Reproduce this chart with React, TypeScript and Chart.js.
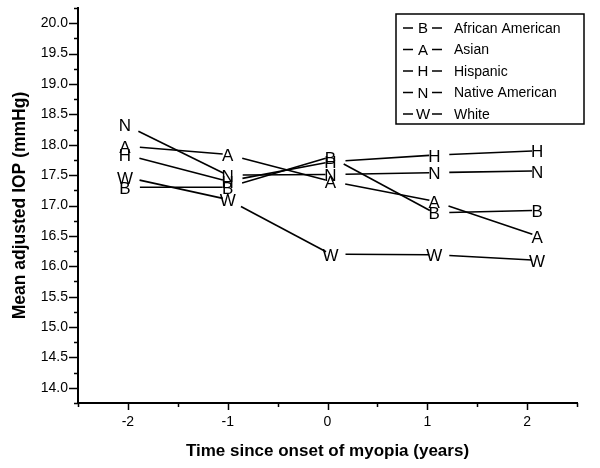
import React, { useEffect, useRef } from "react";
import { Chart, registerables } from "chart.js";

Chart.register(...registerables);

// ---- data ----
const TIMES = [-2.03, -1.0, 0.03, 1.07, 2.1];
const GROUPS = ["African American", "Asian", "Hispanic", "Native American", "White"];
const SYMBOLS = ["B", "A", "H", "N", "W"];
const AFRICAN_AMERICAN = [17.3, 17.3, 17.8, 16.88, 16.92];
const ASIAN = [17.98, 17.84, 17.4, 17.07, 16.5];
const HISPANIC = [17.84, 17.4, 17.72, 17.83, 17.9];
const NATIVE_AMERICAN = [18.33, 17.5, 17.51, 17.54, 17.57];
const WHITE = [17.47, 17.1, 16.2, 16.19, 16.1];
const SERIES = [AFRICAN_AMERICAN, ASIAN, HISPANIC, NATIVE_AMERICAN, WHITE];
const Y_TICKS = [14.0, 14.5, 15.0, 15.5, 16.0, 16.5, 17.0, 17.5, 18.0, 18.5, 19.0, 19.5, 20.0];
const Y_MINOR = [13.75, 14.25, 14.75, 15.25, 15.75, 16.25, 16.75, 17.25, 17.75, 18.25, 18.75, 19.25, 19.75, 20.25];
const X_TICKS = [-2, -1, 0, 1, 2];
const X_MINOR = [-2.5, -1.5, -0.5, 0.5, 1.5, 2.5];
const X_TITLE = "Time since onset of myopia (years)";
const Y_TITLE = "Mean adjusted IOP (mmHg)";

const FONT = '"Liberation Sans", Arial, Helvetica, sans-serif';

const axisTickPlugin = {
  id: "axisTicks",
  afterDraw(chart: any) {
    const ctx = chart.ctx;
    const xs = chart.scales.x;
    const ys = chart.scales.y;
    const area = chart.chartArea;
    ctx.save();
    ctx.strokeStyle = "#000";
    ctx.lineWidth = 1.5;
    ctx.beginPath();
    Y_TICKS.forEach((v) => {
      const y = Math.round(ys.getPixelForValue(v)) + 0.5;
      ctx.moveTo(area.left - 9, y);
      ctx.lineTo(area.left, y);
    });
    Y_MINOR.forEach((v) => {
      const y = Math.round(ys.getPixelForValue(v)) + 0.5;
      ctx.moveTo(area.left - 4, y);
      ctx.lineTo(area.left, y);
    });
    X_TICKS.forEach((v) => {
      const x = Math.round(xs.getPixelForValue(v)) + 0.5;
      ctx.moveTo(x, area.bottom);
      ctx.lineTo(x, area.bottom + 7);
    });
    X_MINOR.forEach((v) => {
      const x = Math.round(xs.getPixelForValue(v)) + 0.5;
      ctx.moveTo(x, area.bottom);
      ctx.lineTo(x, area.bottom + 4);
    });
    ctx.stroke();
    ctx.restore();
  },
};

const GAP_START = 15;
const GAP_END = 5;

const markerPlugin = {
  id: "letterMarkers",
  afterDatasetsDraw(chart: any) {
    const ctx = chart.ctx;
    ctx.save();
    chart.data.datasets.forEach((ds: any, i: number) => {
      const pts = chart.getDatasetMeta(i).data;
      ctx.strokeStyle = "#000";
      ctx.lineWidth = 1.6;
      for (let k = 0; k < pts.length - 1; k++) {
        const p = pts[k];
        const q = pts[k + 1];
        const dx = q.x - p.x;
        const dy = q.y - p.y;
        const len = Math.hypot(dx, dy);
        const ux = dx / len;
        const uy = dy / len;
        ctx.beginPath();
        ctx.moveTo(p.x + ux * GAP_START, p.y + uy * GAP_START);
        ctx.lineTo(q.x - ux * GAP_END, q.y - uy * GAP_END);
        ctx.stroke();
      }
      ctx.font = `17px ${FONT}`;
      ctx.fillStyle = "#000";
      ctx.textAlign = "center";
      ctx.textBaseline = "middle";
      pts.forEach((p: any) => ctx.fillText(SYMBOLS[i], p.x, p.y + 2));
    });
    ctx.restore();
  },
};

const legendPlugin = {
  id: "letterLegend",
  afterDraw(chart: any) {
    const ctx = chart.ctx;
    const area = chart.chartArea;
    const right = area.right + 7;
    const left = right - 188;
    const top = area.top + 6;
    ctx.save();
    ctx.strokeStyle = "#000";
    ctx.lineWidth = 1.5;
    ctx.strokeRect(left, top, 188, 110);
    ctx.fillStyle = "#000";
    ctx.textBaseline = "middle";
    GROUPS.forEach((g, i) => {
      const y = top + 14 + i * 21.5;
      ctx.lineWidth = 1.6;
      ctx.beginPath();
      ctx.moveTo(left + 7, y);
      ctx.lineTo(left + 17, y);
      ctx.moveTo(left + 36, y);
      ctx.lineTo(left + 46, y);
      ctx.stroke();
      ctx.font = `15px ${FONT}`;
      ctx.textAlign = "center";
      ctx.fillText(SYMBOLS[i], left + 27, y + 1);
      ctx.font = `14px ${FONT}`;
      ctx.textAlign = "left";
      ctx.fillText(g, left + 58, y + 1);
    });
    ctx.restore();
  },
};

export default function App() {
  const ref = useRef<HTMLCanvasElement | null>(null);
  useEffect(() => {
    if (!ref.current) return;
    const chart = new Chart(ref.current, {
      type: "scatter",
      data: {
        datasets: SERIES.map((vals, i) => ({
          label: GROUPS[i],
          data: vals.map((v, k) => ({ x: TIMES[k], y: v })),
          showLine: false,
          pointRadius: 0,
          pointHoverRadius: 0,
          borderColor: "#000",
          backgroundColor: "#000",
        })),
      },
      options: {
        animation: false,
        responsive: false,
        events: [],
        layout: { padding: { left: 0, right: 23, top: 8, bottom: 0 } },
        plugins: { legend: { display: false }, tooltip: { enabled: false } },
        scales: {
          x: {
            type: "linear",
            min: -2.5,
            max: 2.5,
            afterBuildTicks: (s: any) => {
              s.ticks = X_TICKS.map((v) => ({ value: v }));
            },
            afterFit: (s: any) => {
              s.height = 65;
              s.paddingLeft = 0;
              s.paddingRight = 0;
            },
            ticks: {
              color: "#000",
              font: { family: FONT, size: 14 },
              padding: 11,
              maxRotation: 0,
              autoSkip: false,
              callback: (v: any) => String(v),
            },
            grid: { display: false, drawTicks: false },
            border: { display: true, color: "#000", width: 2 },
            title: {
              display: true,
              text: X_TITLE,
              color: "#000",
              font: { family: FONT, size: 17, weight: "bold" },
              padding: { top: 0, bottom: 6 },
            },
          },
          y: {
            type: "linear",
            min: 13.75,
            max: 20.25,
            afterBuildTicks: (s: any) => {
              s.ticks = Y_TICKS.map((v) => ({ value: v }));
            },
            afterFit: (s: any) => {
              s.width = 78;
              s.paddingTop = 0;
              s.paddingBottom = 0;
            },
            ticks: {
              color: "#000",
              font: { family: FONT, size: 14 },
              padding: 10,
              autoSkip: false,
              callback: (v: any) => Number(v).toFixed(1),
            },
            grid: { display: false, drawTicks: false },
            border: { display: true, color: "#000", width: 2 },
            title: {
              display: true,
              text: Y_TITLE,
              color: "#000",
              font: { family: FONT, size: 17.5, weight: "bold" },
              padding: { top: 10, bottom: 0 },
            },
          },
        },
      },
      plugins: [axisTickPlugin, markerPlugin, legendPlugin],
    });
    return () => chart.destroy();
  }, []);
  return (
    <div style={{ position: "fixed", left: 0, top: 0, width: 600, height: 468, background: "#fff" }}>
      <canvas ref={ref} width={600} height={468} style={{ width: 600, height: 468, display: "block" }} />
    </div>
  );
}
